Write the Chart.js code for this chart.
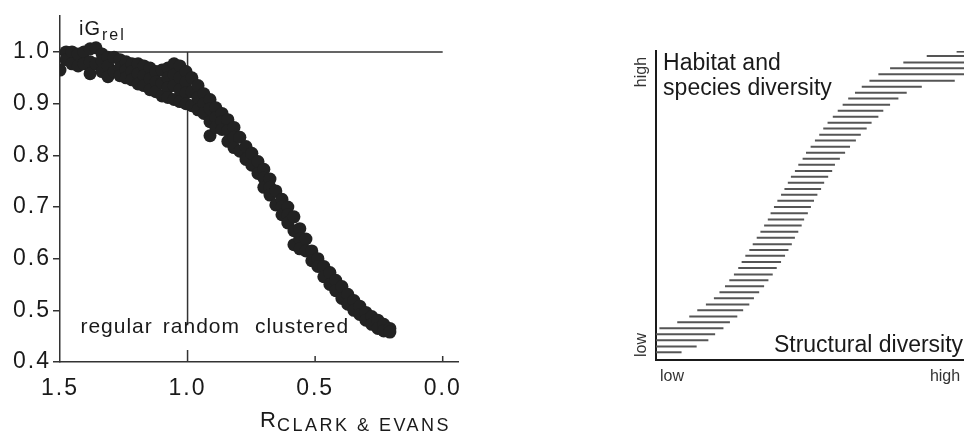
<!DOCTYPE html>
<html>
<head>
<meta charset="utf-8">
<script src="https://cdn.jsdelivr.net/npm/chart.js@4"></script>
<style>
  body { margin: 0; background: #fff; }
  #wrap { position: relative; width: 964px; height: 438px; background: #fff; }
  canvas { position: absolute; top: 0; }
  #left { left: 0; }
  #right { left: 480px; }
</style>
</head>
<body>
<div id="wrap">
  <canvas id="left" width="480" height="438"></canvas>
  <canvas id="right" width="484" height="438"></canvas>
</div>
<script>
const FONT = "'Liberation Sans', Arial, sans-serif";

// ---- left panel: iG_rel against R (Clark & Evans), x axis runs backwards
const rTicks = [1.5, 1.0, 0.5, 0.0];
const igTicks = [0.4, 0.5, 0.6, 0.7, 0.8, 0.9, 1.0];
const zoneLabels = ["regular", "random", "clustered"];
const zoneLabelAt = [1.42, 1.097, 0.736];

const rValues = [
  1.500, 1.476, 1.476, 1.453, 1.453, 1.429, 1.429, 1.406, 1.406,
  1.382, 1.382, 1.382, 1.359, 1.359, 1.335, 1.335, 1.335,
  1.312, 1.312, 1.312, 1.288, 1.288, 1.265, 1.265, 1.265,
  1.241, 1.241, 1.241, 1.218, 1.218, 1.218, 1.194, 1.194, 1.194,
  1.171, 1.171, 1.171, 1.147, 1.147, 1.147, 1.124, 1.124, 1.124,
  1.100, 1.100, 1.100, 1.077, 1.077, 1.077, 1.077,
  1.053, 1.053, 1.053, 1.053, 1.030, 1.030, 1.030, 1.030,
  1.006, 1.006, 1.006, 1.006, 0.983, 0.983, 0.983,
  0.959, 0.959, 0.959, 0.936, 0.936, 0.936,
  0.912, 0.912, 0.912, 0.912, 0.889, 0.889, 0.889,
  0.865, 0.865, 0.865, 0.842, 0.842, 0.842, 0.818, 0.818, 0.818,
  0.795, 0.795, 0.771, 0.771, 0.748, 0.748, 0.724, 0.724,
  0.701, 0.701, 0.701, 0.677, 0.677, 0.677, 0.654, 0.654,
  0.630, 0.630, 0.630, 0.607, 0.607, 0.607,
  0.583, 0.583, 0.583, 0.560, 0.560, 0.560,
  0.536, 0.536, 0.513, 0.513, 0.489, 0.489, 0.466, 0.466,
  0.442, 0.442, 0.419, 0.419, 0.395, 0.395, 0.372, 0.372,
  0.348, 0.348, 0.325, 0.325, 0.301, 0.301, 0.278, 0.278,
  0.254, 0.254, 0.231, 0.231, 0.207, 0.207
];
const igValues = [
  0.965, 1.000, 0.985, 1.000, 0.977, 0.996, 0.973, 1.000, 0.977,
  1.006, 0.981, 0.958, 1.008, 0.977, 0.996, 0.983, 0.962,
  0.990, 0.973, 0.952, 0.990, 0.962, 0.985, 0.969, 0.954,
  0.981, 0.965, 0.950, 0.977, 0.962, 0.946, 0.977, 0.958, 0.938,
  0.973, 0.954, 0.935, 0.969, 0.948, 0.927, 0.962, 0.942, 0.923,
  0.965, 0.940, 0.915, 0.969, 0.950, 0.931, 0.912,
  0.977, 0.956, 0.935, 0.908, 0.973, 0.950, 0.927, 0.904,
  0.962, 0.942, 0.921, 0.900, 0.950, 0.923, 0.896,
  0.935, 0.912, 0.888, 0.919, 0.900, 0.881,
  0.908, 0.890, 0.865, 0.838, 0.892, 0.873, 0.854,
  0.881, 0.865, 0.850, 0.869, 0.848, 0.827, 0.854, 0.835, 0.815,
  0.835, 0.808, 0.817, 0.792, 0.804, 0.781, 0.788, 0.765,
  0.773, 0.756, 0.738, 0.754, 0.738, 0.723, 0.731, 0.704,
  0.715, 0.700, 0.685, 0.700, 0.685, 0.669,
  0.681, 0.654, 0.627, 0.658, 0.638, 0.619,
  0.638, 0.615, 0.615, 0.596, 0.600, 0.585, 0.585, 0.565,
  0.573, 0.550, 0.558, 0.538, 0.546, 0.523, 0.531, 0.512,
  0.519, 0.500, 0.508, 0.492, 0.496, 0.481, 0.488, 0.473,
  0.481, 0.465, 0.473, 0.460, 0.465, 0.458
];

// ---- right panel: hatched band, one dash per level (0..100 both ways)
const hatchLevels = [
  99.8, 98.4, 96.3, 94.4, 92.5, 90.4, 88.4, 86.5, 84.6, 82.6,
  80.7, 78.7, 76.8, 74.9, 72.9, 71.0, 69.0, 67.1, 65.1, 63.2,
  61.2, 59.3, 57.4, 55.3, 53.5, 51.5, 49.5, 47.5, 45.5, 43.5,
  41.5, 39.6, 37.5, 35.6, 33.7, 31.7, 29.8, 27.7, 25.8, 23.9,
  21.9, 20.0, 18.0, 16.1, 14.1, 12.2, 10.3, 8.3, 6.4, 4.4, 2.5
];
const hatchLeft = [
  97.6, 87.9, 80.3, 76.0, 72.2, 69.3, 66.8, 64.6, 62.4, 60.6,
  59.0, 57.4, 55.7, 54.3, 53.0, 51.6, 50.2, 48.7, 47.6, 46.2,
  45.1, 43.8, 42.8, 41.7, 40.6, 39.4, 38.3, 37.2, 36.3, 35.1,
  33.9, 32.7, 31.4, 30.3, 29.0, 27.8, 26.7, 25.3, 23.8, 22.4,
  20.6, 18.8, 16.2, 13.4, 10.8, 6.9, 1.1, 0, 0, 0, 0
];
const hatchRight = [
  100, 100, 100, 100, 100, 97.0, 86.3, 81.4, 78.7, 76.0,
  73.8, 72.2, 70.0, 68.4, 66.5, 64.9, 63.0, 61.4, 59.7, 58.1,
  57.2, 55.9, 54.6, 53.6, 52.4, 51.3, 50.3, 49.3, 48.1, 47.3,
  46.2, 45.1, 44.1, 43.0, 41.9, 40.6, 39.2, 37.9, 36.5, 35.1,
  33.5, 31.8, 30.3, 28.3, 26.4, 24.0, 21.9, 19.2, 17.0, 13.2, 8.3
];

const ink = "#1a1a1a";
const axisInk = "#333";

const leftDecor = {
  id: "leftDecor",
  beforeDraw(chart) {
    chart.ctx.letterSpacing = "2px";
  },
  beforeDatasetsDraw(chart) {
    const { ctx, scales: { x, y } } = chart;
    ctx.save();
    ctx.strokeStyle = axisInk;
    ctx.lineWidth = 1.5;
    ctx.beginPath();
    // iG = 1 line and R = 1 divider (broken for the zone labels)
    ctx.moveTo(x.getPixelForValue(1.5), y.getPixelForValue(1.0));
    ctx.lineTo(x.getPixelForValue(0.0), y.getPixelForValue(1.0));
    ctx.moveTo(x.getPixelForValue(1.0), y.getPixelForValue(1.0));
    ctx.lineTo(x.getPixelForValue(1.0), y.getPixelForValue(0.471));
    ctx.moveTo(x.getPixelForValue(1.0), y.getPixelForValue(0.423));
    ctx.lineTo(x.getPixelForValue(1.0), y.getPixelForValue(0.4));
    // inward x ticks
    [0.5, 0.0].forEach(v => {
      ctx.moveTo(x.getPixelForValue(v), y.bottom);
      ctx.lineTo(x.getPixelForValue(v), y.bottom - 6);
    });
    ctx.stroke();
    ctx.restore();
  },
  afterDraw(chart) {
    const { ctx, scales: { x, y } } = chart;
    ctx.save();
    ctx.fillStyle = ink;
    ctx.textAlign = "left";
    ctx.textBaseline = "alphabetic";

    ctx.font = "21px " + FONT;
    ctx.letterSpacing = "1px";
    zoneLabels.forEach((t, i) => {
      ctx.fillText(t, x.getPixelForValue(zoneLabelAt[i]), y.getPixelForValue(0.456));
    });

    // y title iG_rel
    let tx = 79, ty = 35;
    ctx.font = "20px " + FONT;
    ctx.fillText("iG", tx, ty);
    tx += ctx.measureText("iG").width + 1;
    ctx.font = "16px " + FONT;
    ctx.letterSpacing = "2px";
    ctx.fillText("rel", tx, ty + 5);

    // x title R_CLARK & EVANS
    tx = 260; ty = 427;
    ctx.font = "22px " + FONT;
    ctx.letterSpacing = "1px";
    ctx.fillText("R", tx, ty);
    tx += ctx.measureText("R").width;
    ctx.font = "18px " + FONT;
    ctx.letterSpacing = "2.5px";
    ctx.fillText("CLARK & EVANS", tx, ty + 4);
    ctx.restore();
    ctx.letterSpacing = "0px";
  }
};

new Chart(document.getElementById("left"), {
  type: "scatter",
  data: {
    datasets: [{
      data: rValues.map((r, i) => ({ x: r, y: igValues[i] })),
      backgroundColor: "#222",
      borderWidth: 0,
      pointRadius: 6.5
    }]
  },
  options: {
    responsive: false,
    animation: false,
    events: [],
    layout: { padding: { top: 13, right: 22, left: 0, bottom: 0 } },
    plugins: { legend: { display: false }, tooltip: { enabled: false } },
    scales: {
      x: {
        type: "linear",
        reverse: true,
        min: -0.06,
        max: 1.5,
        afterBuildTicks: s => { s.ticks = rTicks.map(v => ({ value: v })); },
        afterFit: s => { s.height = 76; },
        ticks: {
          callback: v => v.toFixed(1),
          font: { size: 23, family: FONT },
          color: ink,
          padding: 13,
          maxRotation: 0,
          autoSkip: false
        },
        grid: { display: true, drawOnChartArea: false, drawTicks: false },
        border: { color: axisInk, width: 1.5 }
      },
      y: {
        type: "linear",
        min: 0.4,
        max: 1.07,
        afterBuildTicks: s => { s.ticks = igTicks.map(v => ({ value: v })); },
        afterFit: s => { s.width = 60; },
        ticks: {
          callback: v => v.toFixed(1),
          font: { size: 23, family: FONT },
          color: ink,
          padding: 2,
          autoSkip: false
        },
        grid: { drawOnChartArea: false, tickLength: 7, color: axisInk, lineWidth: 1.5 },
        border: { color: axisInk, width: 1.5 }
      }
    }
  },
  plugins: [leftDecor]
});

const rightDecor = {
  id: "rightDecor",
  afterDraw(chart) {
    const { ctx, chartArea: a, scales: { x, y } } = chart;
    ctx.save();
    ctx.fillStyle = ink;
    ctx.textBaseline = "alphabetic";

    ctx.font = "23px " + FONT;
    ctx.textAlign = "left";
    ctx.fillText("Habitat and", x.getPixelForValue(2.3), y.getPixelForValue(93.9));
    ctx.fillText("species diversity", x.getPixelForValue(2.3), y.getPixelForValue(85.8));
    ctx.textAlign = "right";
    ctx.fillText("Structural diversity", x.getPixelForValue(99.7), y.getPixelForValue(2.6));

    ctx.font = "16px " + FONT;
    ctx.textAlign = "center";
    ctx.fillStyle = axisInk;
    ctx.fillText("low", a.left + 16, a.bottom + 21);
    ctx.fillText("high", a.right - 19, a.bottom + 21);

    ctx.textBaseline = "middle";
    [["high", 72], ["low", 345]].forEach(([t, cy]) => {
      ctx.save();
      ctx.translate(a.left - 14, cy);
      ctx.rotate(-Math.PI / 2);
      ctx.fillText(t, 0, 0);
      ctx.restore();
    });
    ctx.restore();
  }
};

new Chart(document.getElementById("right"), {
  type: "bar",
  data: {
    datasets: [{
      data: hatchLevels.map((lv, i) => ({ y: lv, x: [hatchLeft[i], hatchRight[i]] })),
      backgroundColor: "#555",
      borderWidth: 0,
      inflateAmount: 0,
      barThickness: 2
    }]
  },
  options: {
    indexAxis: "y",
    responsive: false,
    animation: false,
    events: [],
    layout: { padding: { top: 51, right: 0, left: 0, bottom: 0 } },
    plugins: { legend: { display: false }, tooltip: { enabled: false } },
    scales: {
      x: {
        type: "linear",
        min: 0,
        max: 100,
        ticks: { display: false },
        grid: { display: false },
        border: { color: ink, width: 2 },
        afterFit: s => { s.height = 78; }
      },
      y: {
        type: "linear",
        offset: false,
        min: 0,
        max: 100,
        ticks: { display: false },
        grid: { display: false },
        border: { color: ink, width: 2 },
        afterFit: s => { s.width = 176; }
      }
    }
  },
  plugins: [rightDecor]
});
</script>
</body>
</html>
